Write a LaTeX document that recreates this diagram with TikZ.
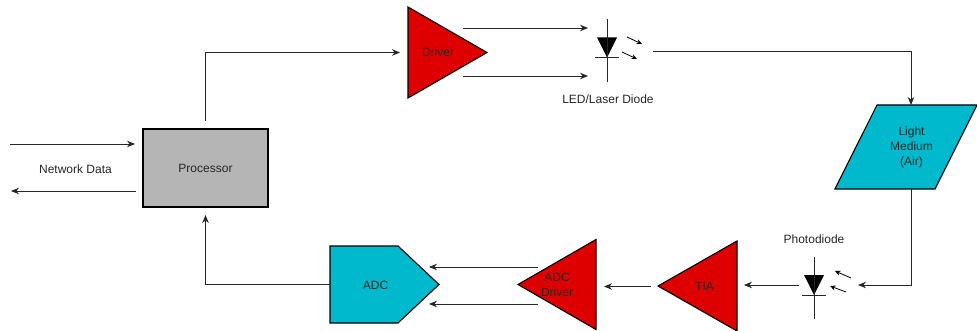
\documentclass[tikz,border=0pt]{standalone}
\usepackage{fontspec}
\setmainfont{Liberation Sans}
\usetikzlibrary{arrows.meta, shapes.geometric, shapes.symbols}
\definecolor{ampred}{HTML}{DE0000}
\definecolor{medcyan}{HTML}{00B9CC}
\definecolor{procgray}{HTML}{B5B5B5}
\definecolor{txtdark}{HTML}{262626}

\begin{document}
\begin{tikzpicture}[
  x=1pt, y=-1pt,
  >={Stealth[length=8pt, width=6.5pt]},
  amp/.style={
    draw=black, line width=1.1pt, fill=ampred, isosceles triangle,
    isosceles triangle stretches, inner sep=0pt, outer sep=0pt,
    minimum width=#1, minimum height=79pt
  },
  diode/.style={
    fill=black, isosceles triangle, isosceles triangle stretches,
    shape border rotate=270, inner sep=0pt, outer sep=0pt,
    minimum width=20pt, minimum height=20pt
  },
  lbl/.style={font=\fontsize{12}{15}\selectfont, text=txtdark, align=center, inner sep=0pt},
  arr/.style={->, line width=0.9pt, draw=black!85},
  ray/.style={->, >={Stealth[length=5.5pt, width=5pt]}, line width=0.8pt, draw=black},
  wire/.style={line width=0.9pt, draw=black!85},
]
\useasboundingbox (0,0) rectangle (977,331);

% Processor
\node[draw=black, line width=1.1pt, fill=procgray, minimum width=125pt, minimum height=78pt,
      inner sep=0pt, outer sep=0pt] (proc) at (205.5,168) {};
\node[lbl] (proclbl) at (205.5,168) {Processor};
\node[lbl] (netlbl) at (75.5,169) {Network Data};

% Driver
\node[amp=91pt, anchor=apex] (drv) at (487,52.5) {};
\node[lbl] (drvlbl) at (438,52) {Driver};

% LED
\node[diode, anchor=apex] (led) at (607,57.5) {};
\node[lbl] (ledlbl) at (608,99) {LED/Laser Diode};
\coordinate (ledtop) at (607,19);
\coordinate (ledbot) at (607,82);
\coordinate (ledbarl) at (595,57.5);
\coordinate (ledbarr) at (619,57.5);

% Light medium
\node[draw=black, line width=1.1pt, fill=medcyan, trapezium,
      trapezium left angle=63.4, trapezium right angle=116.6,
      inner sep=0pt, outer sep=0pt] (med) at (906,147)
  {\phantom{\rule{58pt}{84pt}}};
\node[lbl] (medlbl) at (911.5,147) {Light\\Medium\\(Air)};

% Photodiode
\node[diode, anchor=apex] (pd) at (814,295) {};
\node[lbl] (pdlbl) at (814,239) {Photodiode};
\coordinate (pdtop) at (814,257);
\coordinate (pdbot) at (814,319);
\coordinate (pdbarl) at (802,295);
\coordinate (pdbarr) at (826,295);

% TIA
\node[amp=90pt, shape border rotate=180, anchor=apex] (tia) at (658,286) {};
\node[lbl] (tialbl) at (704.5,286) {TIA};

% ADC driver
\node[amp=90pt, shape border rotate=180, minimum height=78pt, anchor=apex] (adcdrv) at (518,284.5) {};
\node[lbl] (adcdrvlbl) at (557,285) {ADC\\Driver};

% ADC
\node[draw=black, line width=1.1pt, fill=medcyan, signal, signal to=east,
      signal pointer angle=86.4, minimum width=109pt, minimum height=77pt,
      inner sep=0pt, outer sep=0pt, anchor=west] (adc) at (330,284.5) {};
\node[lbl] (adclbl) at (375.5,285) {ADC};

% ===== Arrow ends =====
\coordinate (netinl) at (10,144);
\coordinate (netinr) at (135,144);
\coordinate (netoutr) at (136,191);
\coordinate (netoutl) at (11,191);
\coordinate (drvoa) at (463,28);
\coordinate (ledia) at (588,28);
\coordinate (drvob) at (463,76);
\coordinate (ledib) at (588,76);
\coordinate (ledout) at (653,51);
\coordinate (medin) at (911,105);
\coordinate (medout) at (911,189);
\coordinate (pdin) at (858,285);
\coordinate (pdout) at (799,285);
\coordinate (tiain) at (744,285);
\coordinate (tiaout) at (651,286.5);
\coordinate (drvin) at (604,286.5);
\coordinate (drvoc) at (538,267);
\coordinate (adcia) at (429,267);
\coordinate (drvod) at (538,304);
\coordinate (adcib) at (429,304);

% ===== Arrows =====
\draw[arr] (netinl) -- (netinr);
\draw[arr] (netoutr) -- (netoutl);
\draw[arr, shorten <=8pt, shorten >=8pt] (proc.north) |- (drv.lower side);
\draw[arr] (drvoa) -- (ledia);
\draw[arr] (drvob) -- (ledib);
\draw[arr] (ledout) -| (medin);
\draw[arr] (medout) |- (pdin);
\draw[arr] (pdout) -- (tiain);
\draw[arr] (tiaout) -- (drvin);
\draw[arr] (drvoc) -- (adcia);
\draw[arr] (drvod) -- (adcib);
\draw[arr, shorten >=8pt] (adc.west) -| (proc.south);

% ===== Diode leads and rays =====
\draw[wire] (ledtop) -- (ledbot);
\draw[wire] (ledbarl) -- (ledbarr);
\draw[ray] (627,37) -- (642,44);
\draw[ray] (622,52) -- (637,59);
\draw[wire] (pdtop) -- (pdbot);
\draw[wire] (pdbarl) -- (pdbarr);
\draw[ray] (851,278) -- (835,271);
\draw[ray] (846,292) -- (830,286);

\end{tikzpicture}
\end{document}
